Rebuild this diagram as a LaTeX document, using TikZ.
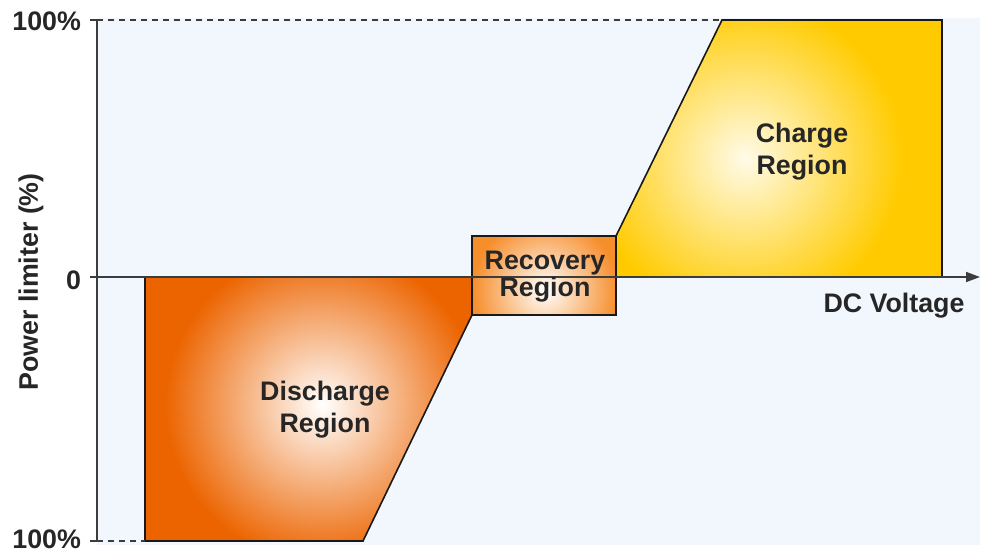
\documentclass[tikz,border=0pt]{standalone}
\usepackage{fontspec}
\setmainfont{Liberation Sans}
\usetikzlibrary{arrows.meta}
\definecolor{bgblue}{RGB}{241,247,253}
\definecolor{dischargeorange}{RGB}{236,100,0}
\definecolor{recoveryorange}{RGB}{246,142,44}
\definecolor{chargeyellow}{RGB}{255,203,0}
\definecolor{chargelight}{RGB}{255,251,232}
\definecolor{axisgray}{RGB}{60,60,60}
\pgfdeclareradialshading{dischargeglow}{\pgfpoint{0bp}{0bp}}{color(0bp)=(white); color(14bp)=(dischargeorange); color(50bp)=(dischargeorange)}
\pgfdeclareradialshading{chargeglow}{\pgfpoint{0bp}{0bp}}{color(0bp)=(chargelight); color(14bp)=(chargeyellow); color(50bp)=(chargeyellow)}
\pgfdeclareradialshading{recoveryglow}{\pgfpoint{0bp}{0bp}}{color(0bp)=(white); color(14bp)=(recoveryorange); color(50bp)=(recoveryorange)}
\tikzset{
  region/.style={draw=black!90,line width=0.8pt},
  lbl/.style={font=\bfseries\fontsize{13.4}{16}\selectfont,align=center,text=black!85},
  axisline/.style={draw=axisgray,line width=0.8pt},
  guide/.style={draw=axisgray,line width=0.6pt,dash pattern=on 3pt off 2.5pt}
}
\begin{document}
\begin{tikzpicture}[x=0.5pt,y=-0.5pt]
\useasboundingbox (0,0) rectangle (982,552);
\fill[bgblue] (97,18) rectangle (980,545);

\coordinate (top) at (97,20);
\coordinate (zero) at (97,277);
\coordinate (bottom) at (97,541);
\coordinate (xend) at (980,277);

% regions
\path[region,fill=dischargeorange,path picture={\shade[shading=dischargeglow]
  (322,405) circle [radius=140pt];}]
  (145,277) -- (472,277) -- (472,315) -- (363,541) -- (145,541) -- cycle;
\path[region,fill=chargeyellow,path picture={\shade[shading=chargeglow]
  (745,158) circle [radius=140pt];}]
  (616,236) -- (722,20) -- (942,20) -- (942,277) -- (616,277) -- cycle;
\path[region,fill=recoveryorange,path picture={\shade[shading=recoveryglow]
  (545,290) circle [radius=65pt];}]
  (472,236) rectangle (616,315);

% axes
\draw[axisline] (bottom) -- (top);
\draw[axisline,-{Triangle[length=7pt,width=5pt]}] (zero) -- (xend);
\draw[axisline] (zero) -- +(-7,0);
\draw[axisline] (top) -- +(-7,0);
\draw[axisline] (bottom) -- +(-7,0);
\draw[guide] (top) -- (722,20);
\draw[guide] (bottom) -- (145,541);

% labels
\node[lbl,anchor=east] (ptop) at (88,21) {100\%};
\node[lbl,anchor=east] (pzero) at (88,280) {0};
\node[lbl,anchor=east] (pbottom) at (88,539) {100\%};
\node[lbl,rotate=90] (ylabel) at (31,282) {Power limiter (\%)};
\node[lbl] (xlabel) at (894,306) {DC Voltage};
\node[lbl] (discharge) at (325,410) {Discharge\\Region};
\node[lbl,font=\bfseries\fontsize{13.4}{13.5}\selectfont] (recovery) at (545,277) {Recovery\\Region};
\node[lbl] (charge) at (802,152) {Charge\\Region};
\end{tikzpicture}
\end{document}
